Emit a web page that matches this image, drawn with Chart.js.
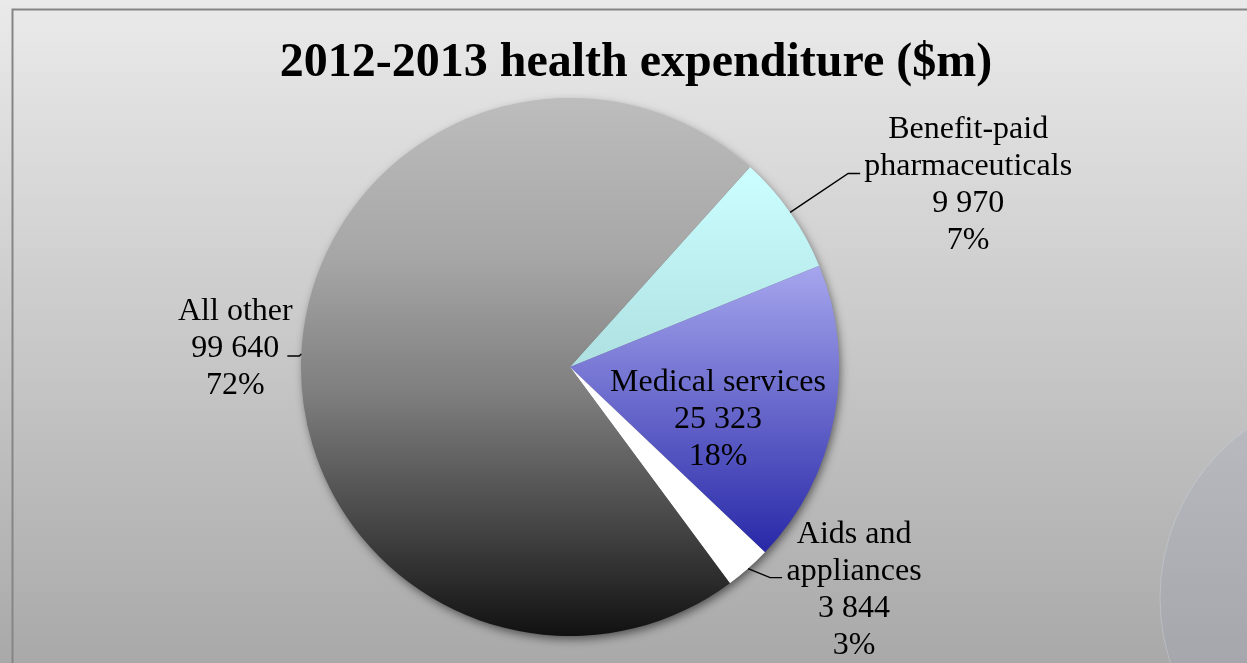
<!DOCTYPE html>
<html>
<head>
<meta charset="utf-8">
<script src="https://cdn.jsdelivr.net/npm/chart.js@4.4.1/dist/chart.umd.min.js"></script>
<style>
  html, body { margin: 0; padding: 0; background: #d0d0d0; }
  #wrap { width: 1247px; height: 663px; }
</style>
</head>
<body>
<div id="wrap"><canvas id="c" width="1247" height="663"></canvas></div>
<script>
// Health spending 2012-2013, $ million
const chartTitle = '2012-2013 health expenditure ($m)';
const categories = ['Benefit-paid pharmaceuticals', 'Medical services', 'Aids and appliances', 'All other'];
const categoryLines = [['Benefit-paid', 'pharmaceuticals'], ['Medical services'], ['Aids and', 'appliances'], ['All other']];
const spending = [9970, 25323, 3844, 99640];
const firstSliceAngle = 42; // degrees clockwise from 12 o'clock

// vertical gradient stops for each slice (top -> bottom of the slice)
const sliceFills = [
  [[0, '#ccffff'], [1, '#aee0e2']],
  [[0, '#a6a6ee'], [1, '#2828a8']],
  [[0, '#ffffff'], [1, '#ffffff']],
  [[0, '#bdbdbd'], [0.3, '#a6a6a6'], [0.55, '#7e7e7e'], [0.8, '#444444'], [1, '#111111']]
];

// label placement: anchor is the slice's outer mid point ('edge') or the pie centre ('centre')
const labelPlacement = [
  { anchor: 'edge',   x: 178,  y: -74, leader: [[58, -39], [70, -39]] },
  { anchor: 'centre', x: 148,  y: 24,  leader: null },
  { anchor: 'edge',   x: 106,  y: -26, leader: [[22, 9], [34, 9]] },
  { anchor: 'edge',   x: -66,  y: -34, leader: [[-2, 2], [-14, 2]] }
];
const labelFont = '32px "Liberation Serif", "Times New Roman", serif';
const lineHeight = 37;

const total = spending.reduce((a, b) => a + b, 0);
const fmt = v => String(v).replace(/\B(?=(\d{3})+(?!\d))/g, ' ');

function sliceYRange(chart, i) {
  const a = chart.chartArea;
  const cx = (a.left + a.right) / 2, cy = (a.top + a.bottom) / 2;
  const r = Math.min(a.right - a.left, a.bottom - a.top) / 2;
  let before = 0;
  for (let k = 0; k < i; k++) before += spending[k];
  const s = firstSliceAngle * Math.PI / 180 - Math.PI / 2 + before / total * 2 * Math.PI;
  const e = s + spending[i] / total * 2 * Math.PI;
  const ys = [cy, cy + r * Math.sin(s), cy + r * Math.sin(e)];
  for (let k = -4; k <= 4; k++) {
    const t = Math.PI / 2 + k * Math.PI;
    if (t > s && t < e) ys.push(cy + r * Math.sin(t));
  }
  return [Math.min(...ys), Math.max(...ys)];
}

function sliceFill(ctx) {
  const chart = ctx.chart;
  if (!chart.chartArea) return '#999';
  const i = ctx.dataIndex;
  const [y0, y1] = sliceYRange(chart, i);
  const g = chart.ctx.createLinearGradient(0, y0, 0, y1);
  sliceFills[i].forEach(([o, c]) => g.addColorStop(o, c));
  return g;
}

const backdrop = {
  id: 'backdrop',
  beforeDraw(chart) {
    const c = chart.ctx, W = chart.width, H = chart.height;
    c.save();
    const g = c.createLinearGradient(0, 0, 0, H);
    g.addColorStop(0, '#eaeaea');
    g.addColorStop(1, '#a9a9a9');
    c.fillStyle = g;
    c.fillRect(0, 0, W, H);
    // faint round panel at lower right
    c.beginPath();
    c.arc(1368, 598, 208, 0, Math.PI * 2);
    c.fillStyle = 'rgba(150,162,184,0.2)';
    c.fill();
    c.strokeStyle = 'rgba(215,220,228,0.35)';
    c.lineWidth = 1;
    c.stroke();
    // frame
    c.strokeStyle = '#858585';
    c.lineWidth = 2;
    c.strokeRect(12.5, 9.5, W + 20, H + 20);
    c.restore();
  }
};

const headline = {
  id: 'headline',
  afterDraw(chart) {
    const c = chart.ctx;
    c.save();
    c.font = 'bold 48px "Liberation Serif", "Times New Roman", serif';
    c.fillStyle = '#000';
    c.textAlign = 'center';
    c.textBaseline = 'alphabetic';
    c.fillText(chartTitle, 636, 76);
    c.restore();
  }
};

const pieShadow = {
  id: 'pieShadow',
  beforeDatasetsDraw(chart) {
    const arc = chart.getDatasetMeta(0).data[0];
    if (!arc) return;
    const c = chart.ctx;
    c.save();
    c.shadowColor = 'rgba(0,0,0,0.55)';
    c.shadowBlur = 10;
    c.shadowOffsetX = 2;
    c.shadowOffsetY = 4;
    c.beginPath();
    c.arc(arc.x, arc.y, arc.outerRadius - 1, 0, Math.PI * 2);
    c.fillStyle = '#777';
    c.fill();
    c.restore();
  }
};

const sliceLabels = {
  id: 'sliceLabels',
  afterDatasetsDraw(chart) {
    const c = chart.ctx;
    const arcs = chart.getDatasetMeta(0).data;
    c.save();
    c.font = labelFont;
    c.fillStyle = '#000';
    c.strokeStyle = '#000';
    c.lineWidth = 1.4;
    c.textAlign = 'center';
    c.textBaseline = 'alphabetic';
    arcs.forEach((arc, i) => {
      const p = labelPlacement[i];
      const mid = (arc.startAngle + arc.endAngle) / 2;
      const ax = p.anchor === 'edge' ? arc.x + arc.outerRadius * Math.cos(mid) : arc.x;
      const ay = p.anchor === 'edge' ? arc.y + arc.outerRadius * Math.sin(mid) : arc.y;
      if (p.leader) {
        c.beginPath();
        c.moveTo(ax, ay);
        p.leader.forEach(([dx, dy]) => c.lineTo(ax + dx, ay + dy));
        c.stroke();
      }
      const lines = [...categoryLines[i], fmt(spending[i]), Math.round(spending[i] / total * 100) + '%'];
      lines.forEach((t, k) => c.fillText(t, ax + p.x, ay + p.y + k * lineHeight));
    });
    c.restore();
  }
};

new Chart(document.getElementById('c'), {
  type: 'pie',
  data: {
    labels: categories,
    datasets: [{
      data: spending,
      backgroundColor: sliceFill,
      borderWidth: 0,
      hoverOffset: 0
    }]
  },
  options: {
    responsive: false,
    animation: false,
    devicePixelRatio: 1,
    rotation: firstSliceAngle,
    events: [],
    layout: { padding: { left: 301, right: 408, top: 98, bottom: 27 } },
    plugins: {
      legend: { display: false },
      title: { display: false },
      tooltip: { enabled: false }
    }
  },
  plugins: [backdrop, pieShadow, sliceLabels, headline]
});
</script>
</body>
</html>
